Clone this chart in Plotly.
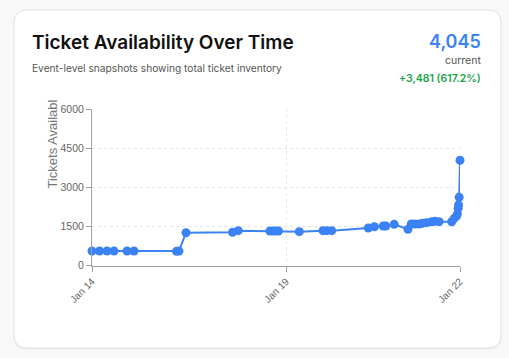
import plotly.graph_objects as go

# ---- data ----
snapshot_times = [
    "2025-01-14 18:45", "2025-01-14 22:40", "2025-01-15 02:35", "2025-01-15 06:14",
    "2025-01-15 13:01", "2025-01-15 16:40", "2025-01-16 14:50", "2025-01-16 16:08",
    "2025-01-16 19:47", "2025-01-17 20:03", "2025-01-17 23:04", "2025-01-18 15:36",
    "2025-01-18 17:10", "2025-01-18 18:44", "2025-01-18 20:02", "2025-01-19 06:53",
    "2025-01-19 19:15", "2025-01-19 21:11", "2025-01-19 23:48", "2025-01-20 18:53",
    "2025-01-20 22:07", "2025-01-21 02:43", "2025-01-21 04:01", "2025-01-21 08:24",
    "2025-01-21 15:36", "2025-01-21 17:19", "2025-01-21 19:15", "2025-01-21 21:20",
    "2025-01-21 23:10", "2025-01-22 01:21", "2025-01-22 03:58", "2025-01-22 05:41",
    "2025-01-22 07:53", "2025-01-22 14:24", "2025-01-22 15:45", "2025-01-22 16:54",
    "2025-01-22 17:25", "2025-01-22 17:47", "2025-01-22 18:00", "2025-01-22 18:19",
    "2025-01-22 18:45",
]
tickets_available = [
    564, 564, 564, 564,
    564, 564, 550, 560,
    1266, 1281, 1343, 1330,
    1330, 1330, 1330, 1305,
    1343, 1343, 1343, 1446,
    1496, 1523, 1523, 1588,
    1396, 1600, 1600, 1600,
    1626, 1650, 1688, 1703,
    1690, 1688, 1818, 1900,
    1990, 2200, 2328, 2624,
    4045,
]
x_tick_dates = [snapshot_times[0], "2025-01-19 00:00", snapshot_times[-1]]
x_tick_labels = ["Jan 14", "Jan 19", "Jan 22"]
y_tick_values = [0, 1500, 3000, 4500, 6000]

title_text = "Ticket Availability Over Time"
subtitle_text = "Event-level snapshots showing total ticket inventory"
current_value = tickets_available[-1]
change = tickets_available[-1] - tickets_available[0]
change_pct = change / tickets_available[0] * 100

W, H = 509, 358
BLUE = "#3b82f6"


def px(x):
    return x / W


def py(y):
    return 1 - y / H


def rounded_rect(x0, y0, x1, y1, r):
    X = lambda v: f"{px(v):.5f}"
    Y = lambda v: f"{py(v):.5f}"
    return (
        f"M {X(x0 + r)} {Y(y0)} L {X(x1 - r)} {Y(y0)} Q {X(x1)} {Y(y0)} {X(x1)} {Y(y0 + r)} "
        f"L {X(x1)} {Y(y1 - r)} Q {X(x1)} {Y(y1)} {X(x1 - r)} {Y(y1)} "
        f"L {X(x0 + r)} {Y(y1)} Q {X(x0)} {Y(y1)} {X(x0)} {Y(y1 - r)} "
        f"L {X(x0)} {Y(y0 + r)} Q {X(x0)} {Y(y0)} {X(x0 + r)} {Y(y0)} Z"
    )


fig = go.Figure()
fig.add_trace(go.Scatter(
    x=snapshot_times, y=tickets_available, mode="lines+markers",
    line=dict(color=BLUE, width=2),
    marker=dict(color=BLUE, size=9),
    cliponaxis=False, showlegend=False,
))

axis_font = dict(family="Liberation Sans, Arial, sans-serif", size=10.5, color="#666666")

fig.update_layout(
    template="none",
    width=W, height=H,
    margin=dict(l=0, r=0, t=0, b=0, pad=0, autoexpand=False),
    paper_bgcolor="#f8f8f8",
    plot_bgcolor="rgba(0,0,0,0)",
    showlegend=False,
    xaxis=dict(
        type="date", automargin=False,
        domain=[px(92), px(460)],
        range=[snapshot_times[0], snapshot_times[-1]],
        tickmode="array", tickvals=x_tick_dates, ticktext=x_tick_labels,
        tickangle=-45, tickfont=dict(family="Liberation Sans, Arial, sans-serif", size=10, color="#666666"),
        showline=True, linecolor="#a0a0a0", linewidth=1,
        ticks="outside", ticklen=5, tickcolor="#a0a0a0", tickwidth=1,
        showgrid=True, gridcolor="#e6e6e6", griddash="3px,3px", gridwidth=1,
        zeroline=False, fixedrange=True,
    ),
    yaxis=dict(
        automargin=False,
        domain=[py(265.7), py(109.3)],
        range=[0, 6000],
        tickmode="array", tickvals=y_tick_values, tickformat="d",
        tickfont=axis_font,
        showline=True, linecolor="#a0a0a0", linewidth=1,
        ticks="outside", ticklen=5, tickcolor="#a0a0a0", tickwidth=1,
        showgrid=True, gridcolor="#e6e6e6", griddash="3px,3px", gridwidth=1,
        zeroline=False, fixedrange=True,
    ),
    shapes=[
        dict(type="path", xref="paper", yref="paper", layer="below",
             path=rounded_rect(13.5, 10.5, 501.5, 349.5, 13),
             fillcolor="#ececec", line=dict(width=0)),
        dict(type="path", xref="paper", yref="paper", layer="below",
             path=rounded_rect(14, 10, 501, 348, 13),
             fillcolor="#ffffff", line=dict(color="#e2e2e2", width=1)),
    ],
    annotations=[
        dict(xref="paper", yref="paper", x=px(30), y=py(42), xanchor="left", yanchor="middle",
             text=title_text, showarrow=False,
             font=dict(family="Inter, sans-serif", size=19, color="#111111", weight=600)),
        dict(xref="paper", yref="paper", x=px(30), y=py(68), xanchor="left", yanchor="middle",
             text=subtitle_text, showarrow=False,
             font=dict(family="Inter, sans-serif", size=10.2, color="#555555")),
        dict(xref="paper", yref="paper", x=px(483), y=py(41), xanchor="right", yanchor="middle",
             text=f"{current_value:,}", showarrow=False,
             font=dict(family="Inter, sans-serif", size=18, color=BLUE, weight=600)),
        dict(xref="paper", yref="paper", x=px(483), y=py(61), xanchor="right", yanchor="middle",
             text="current", showarrow=False,
             font=dict(family="Inter, sans-serif", size=10.5, color="#555555")),
        dict(xref="paper", yref="paper", x=px(483), y=py(79), xanchor="right", yanchor="middle",
             text=f"+{change:,} ({change_pct:.1f}%)", showarrow=False,
             font=dict(family="Inter, sans-serif", size=10.5, color="#16a34a", weight=600)),
        dict(xref="paper", yref="paper", x=px(52), y=py(144.5), xanchor="center", yanchor="middle",
             text="Tickets Availabl", textangle=-90, showarrow=False,
             font=dict(family="Liberation Sans, Arial, sans-serif", size=13, color="#777777")),
    ],
)

fig.write_html(
    "out.html",
    config={"displayModeBar": False},
    post_script="document.body.style.margin='0';document.body.style.background='#f8f8f8';",
)
